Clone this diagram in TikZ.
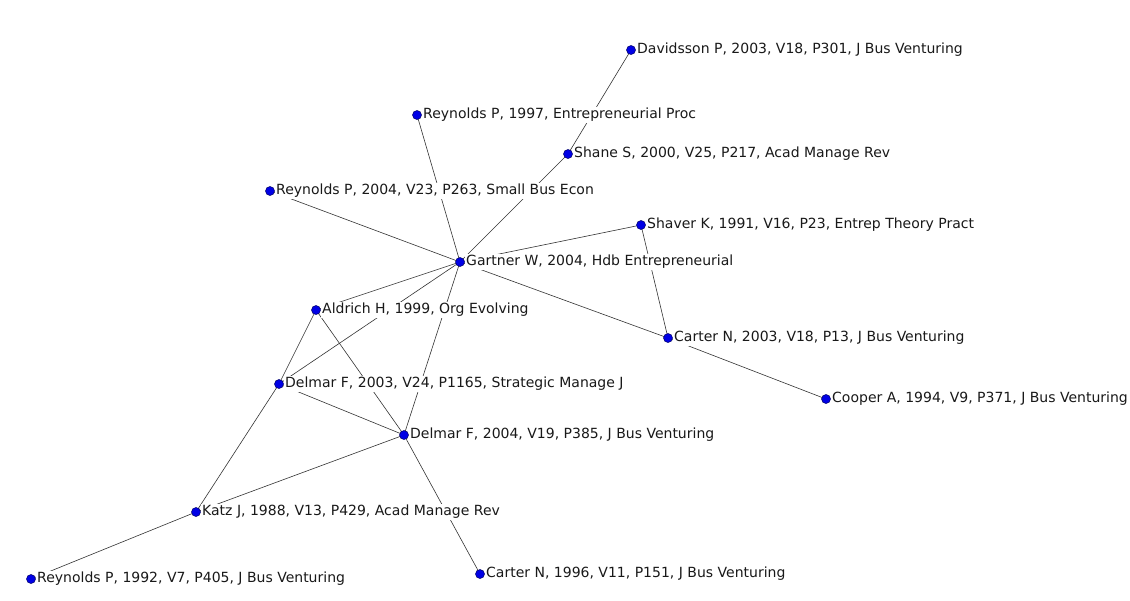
\documentclass[tikz,border=0pt]{standalone}
\usepackage{fontspec}
\setmainfont{DejaVu Sans}
\begin{document}
\begin{tikzpicture}[x=1pt,y=-1pt,
  dot/.style={circle,fill=blue!90!black,draw=blue!40!black,line width=0.5pt,inner sep=0pt,minimum size=9pt},
  lab/.style={anchor=west,font=\fontsize{14}{16}\selectfont,inner sep=1pt,fill=white,text=black!90},
  edge/.style={draw=black!80,line width=0.6pt}]
\useasboundingbox[fill=white] (0,0) rectangle (1130,600);
\coordinate (cDav) at (631,50);
\coordinate (cR97) at (417,115);
\coordinate (cSha) at (568,154);
\coordinate (cR04) at (270,191);
\coordinate (cShv) at (641,225);
\coordinate (cGar) at (460,262);
\coordinate (cAld) at (316,310);
\coordinate (cC03) at (668,338);
\coordinate (cD03) at (279,384);
\coordinate (cCoo) at (826,399);
\coordinate (cD04) at (404,435);
\coordinate (cKat) at (196,512);
\coordinate (cC96) at (480,574);
\coordinate (cR92) at (31,579);
% edges
\foreach \a/\b in {Dav/Sha,Sha/Gar,R97/Gar,R04/Gar,Shv/Gar,Shv/C03,Gar/C03,C03/Coo,Gar/Ald,Gar/D03,Gar/D04,Ald/D04,Ald/D03,D03/D04,D03/Kat,Kat/D04,Kat/R92,D04/C96}
  \draw[edge] (c\a) -- (c\b);
% labels
\node[lab] (lDav) at ([xshift=5pt]cDav) {Davidsson P, 2003, V18, P301, J Bus Venturing};
\node[lab] (lR97) at ([xshift=5pt]cR97) {Reynolds P, 1997, Entrepreneurial Proc};
\node[lab] (lSha) at ([xshift=5pt]cSha) {Shane S, 2000, V25, P217, Acad Manage Rev};
\node[lab] (lR04) at ([xshift=5pt]cR04) {Reynolds P, 2004, V23, P263, Small Bus Econ};
\node[lab] (lShv) at ([xshift=5pt]cShv) {Shaver K, 1991, V16, P23, Entrep Theory Pract};
\node[lab] (lGar) at ([xshift=5pt]cGar) {Gartner W, 2004, Hdb Entrepreneurial};
\node[lab] (lAld) at ([xshift=5pt]cAld) {Aldrich H, 1999, Org Evolving};
\node[lab] (lC03) at ([xshift=5pt]cC03) {Carter N, 2003, V18, P13, J Bus Venturing};
\node[lab] (lD03) at ([xshift=5pt]cD03) {Delmar F, 2003, V24, P1165, Strategic Manage J};
\node[lab] (lCoo) at ([xshift=5pt]cCoo) {Cooper A, 1994, V9, P371, J Bus Venturing};
\node[lab] (lD04) at ([xshift=5pt]cD04) {Delmar F, 2004, V19, P385, J Bus Venturing};
\node[lab] (lKat) at ([xshift=5pt]cKat) {Katz J, 1988, V13, P429, Acad Manage Rev};
\node[lab] (lC96) at ([xshift=5pt]cC96) {Carter N, 1996, V11, P151, J Bus Venturing};
\node[lab] (lR92) at ([xshift=5pt]cR92) {Reynolds P, 1992, V7, P405, J Bus Venturing};
% dots
\foreach \n in {Dav,R97,Sha,R04,Shv,Gar,Ald,C03,D03,Coo,D04,Kat,C96,R92}
  \node[dot] (n\n) at (c\n) {};
\end{tikzpicture}
\end{document}
